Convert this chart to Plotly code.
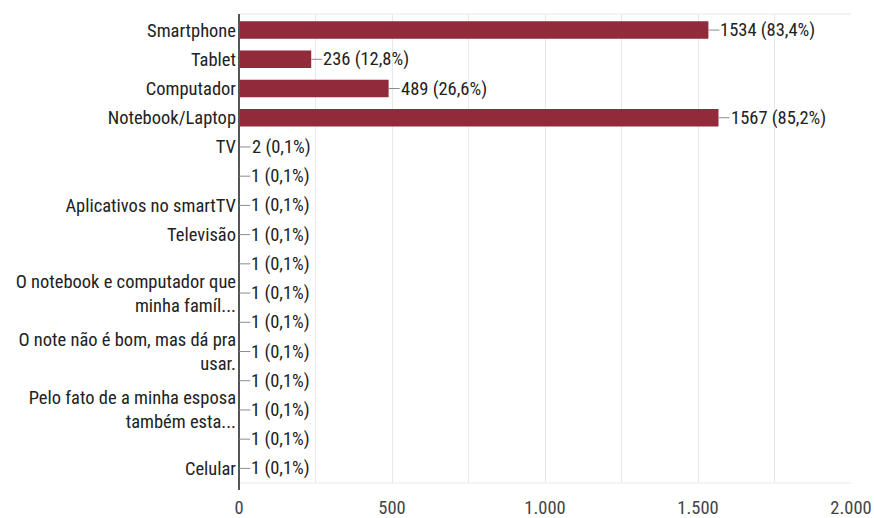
import plotly.graph_objects as go

categories = ["Smartphone", "Tablet", "Computador", "Notebook/Laptop", "TV", "",
              "Aplicativos no smartTV", "Televisão", "",
              "O notebook e computador que<br>minha famíl...", "",
              "O note não é bom, mas dá pra<br>usar.", "",
              "Pelo fato de a minha esposa<br>também esta...", "", "Celular"]
values = [1534, 236, 489, 1567, 2, 1, 1, 1, 1, 1, 1, 1, 1, 1, 1, 1]
percents = ["83,4%", "12,8%", "26,6%", "85,2%", "0,1%", "0,1%", "0,1%", "0,1%",
            "0,1%", "0,1%", "0,1%", "0,1%", "0,1%", "0,1%", "0,1%", "0,1%"]
x_ticks = [0, 500, 1000, 1500, 2000]

FONT = "Roboto Condensed, Arial Narrow, sans-serif"
FS = 18.5
idx = list(range(len(categories)))

fig = go.Figure()
fig.add_trace(go.Bar(
    x=values, y=idx, orientation="h",
    marker=dict(color="#912a3a", line=dict(width=0)),
    width=0.6, hoverinfo="skip",
))

for i, (v, p) in enumerate(zip(values, percents)):
    fig.add_annotation(
        x=v, y=i, xref="x", yref="y",
        text=f"{v} ({p})", showarrow=True, arrowhead=0, arrowwidth=1,
        arrowcolor="#8c8c8c", ax=11, ay=0, xanchor="left", yanchor="middle",
        font=dict(family=FONT, size=FS, color="#222222"),
        standoff=0, startstandoff=0, borderpad=0,
    )

fig.update_layout(
    width=874, height=518,
    margin=dict(l=239, r=23, t=14, b=35, autoexpand=False),
    paper_bgcolor="white", plot_bgcolor="white",
    showlegend=False,
    separators=",.",
    font=dict(family=FONT, size=FS, color="#222222"),
    xaxis=dict(
        range=[0, 2000], tickvals=x_ticks, tickformat=",d",
        showgrid=True, gridcolor="#e8e8e8", gridwidth=1,
        minor=dict(dtick=250, tick0=0, showgrid=True, gridcolor="#e8e8e8"),
        zeroline=False, showline=False, ticks="", automargin=False,
        tickfont=dict(family=FONT, size=FS, color="#444444"),
        ticklabelstandoff=11,
    ),
    yaxis=dict(
        range=[15.5, -0.55], tickvals=idx, ticktext=categories,
        showgrid=False, zeroline=False, ticks="", automargin=False,
        showline=False,
        tickfont=dict(family=FONT, size=FS, color="#222222"),
        ticklabelstandoff=2,
    ),
)
fig.add_shape(type="line", xref="paper", yref="paper", x0=0, x1=1, y0=1, y1=1,
              line=dict(color="#e8e8e8", width=1))
fig.add_shape(type="line", xref="paper", yref="paper", x0=0, x1=1, y0=0, y1=0,
              line=dict(color="#e8e8e8", width=1))
fig.add_shape(type="line", xref="paper", yref="paper", x0=0, x1=0, y0=-0.015, y1=1,
              line=dict(color="#555555", width=2))

fig.write_html(
    "out.html",
    config={"displayModeBar": False},
    post_script="document.body.style.margin='0';document.body.style.overflow='hidden';",
)
